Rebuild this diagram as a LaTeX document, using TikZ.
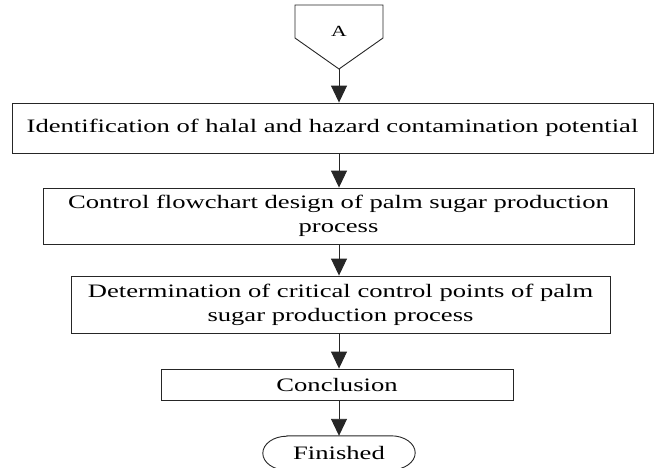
\documentclass[tikz,border=0pt]{standalone}
\usepackage{fontspec}
\setmainfont{Liberation Serif}[FakeStretch=1.40]
\usetikzlibrary{arrows.meta}
\tikzset{
  lin/.style={line width=0.9pt, draw=black!85},
  arr/.style={lin, -{Triangle[width=16pt,length=17pt]}},
  procbox/.style={lin, rectangle, inner sep=0pt, align=center,
    font=\fontsize{19}{24}\selectfont},
  txt/.style={inner sep=0pt, font=\fontsize{19}{24}\selectfont}
}
\begin{document}
\begin{tikzpicture}[x=1pt,y=-1pt]
\useasboundingbox (0,0) rectangle (655,467);
% off-page connector
\draw[lin] (295,5) -- (383,5) -- (383,38) -- (339,69) -- (295,38) -- cycle;
\node[inner sep=0pt, font=\fontsize{15.5}{18}\selectfont] (A) at (339,31) {A};
\coordinate (Apt) at (339,69);
% boxes
\node[procbox, minimum width=641, minimum height=50] (b1) at (332.5,128)
  {Identification of halal and hazard contamination potential};
\node[procbox, minimum width=591, minimum height=56] (b2) at (338.5,216)
  {Control flowchart design of palm sugar production\\process};
\node[procbox, minimum width=539, minimum height=57] (b3) at (340.5,304.5)
  {Determination of critical control points of palm\\sugar production process};
\node[procbox, minimum width=352, minimum height=31] (b4) at (337,384.5)
  {Conclusion};
% terminator
\node[txt, minimum width=152, minimum height=34] (fin) at (339,453) {Finished};
\draw[lin] ([xshift=24pt]fin.north west) -- ([xshift=-24pt]fin.north east)
  arc[start angle=90, end angle=-90, x radius=24pt, y radius=17pt]
  -- ([xshift=24pt]fin.south west)
  arc[start angle=270, end angle=90, x radius=24pt, y radius=17pt] -- cycle;
% connectors
\draw[arr] (Apt) -- (b1.north -| Apt);
\draw[arr] (b1.south -| Apt) -- (b2.north -| Apt);
\draw[arr] (b2.south -| Apt) -- (b3.north -| Apt);
\draw[arr] (b3.south -| Apt) -- (b4.north -| Apt);
\draw[arr] (b4.south -| Apt) -- (fin.north -| Apt);
\end{tikzpicture}
\end{document}
